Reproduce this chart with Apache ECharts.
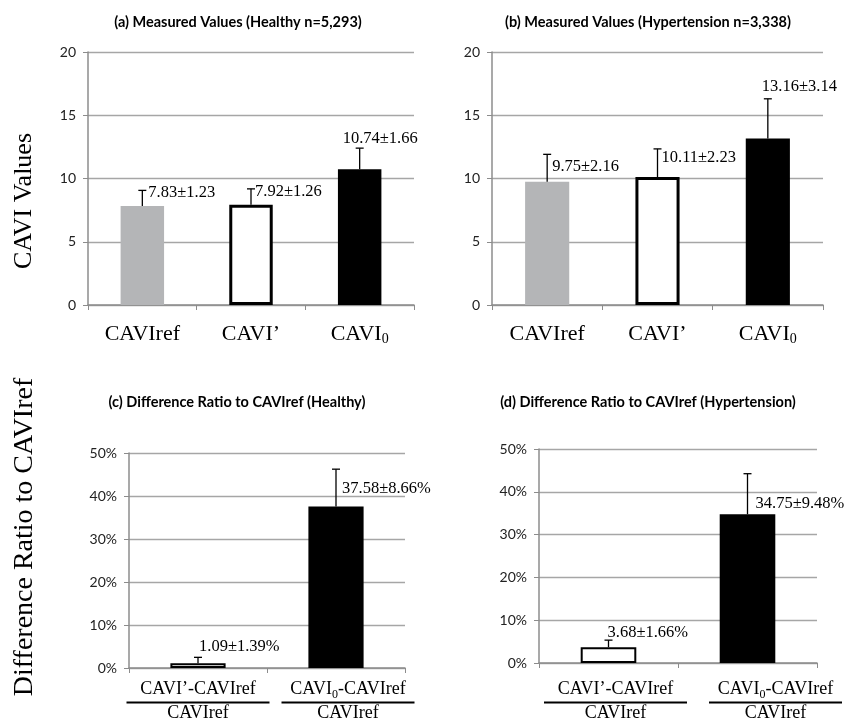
<!DOCTYPE html>
<html>
<head>
<meta charset="utf-8">
<script src="https://cdn.jsdelivr.net/npm/echarts@6/dist/echarts.min.js"></script>
<style>html,body{margin:0;padding:0;background:#fff}#c{width:846px;height:719px}</style>
</head>
<body>
<div id="c"></div>
<script>
// ---- data ----
const measuredCats = ['CAVIref', 'CAVI\u2019', 'CAVI0'];
const healthyMean = [7.83, 7.92, 10.74];
const healthySD = [1.23, 1.26, 1.66];
const hyperMean = [9.75, 10.11, 13.16];
const hyperSD = [2.16, 2.23, 3.14];

const ratioCats = ['CAVI\u2019-CAVIref', 'CAVI0-CAVIref'];
const healthyRatio = [1.09, 37.58];
const healthyRatioSD = [1.39, 8.66];
const hyperRatio = [3.68, 34.75];
const hyperRatioSD = [1.66, 9.48];

const titles = [
  '(a) Measured Values (Healthy n=5,293)',
  '(b) Measured Values (Hypertension n=3,338)',
  '(c) Difference Ratio to CAVIref (Healthy)',
  '(d) Difference Ratio to CAVIref (Hypertension)'
];

// ---- styles / placement ----
const serif = '"Liberation Serif", "Times New Roman", serif';
const sans = 'Lato, "Open Sans", sans-serif';
const measuredStyles = [
  { color: '#b4b5b7', borderWidth: 0 },
  { color: '#ffffff', borderColor: '#000', borderWidth: 3 },
  { color: '#000000', borderWidth: 0 }
];
const ratioStyles = [
  { color: '#ffffff', borderColor: '#000', borderWidth: 2 },
  { color: '#000000', borderWidth: 0 }
];
// label offsets [dx, dy] relative to error bar cap
const labelOffsets = [
  [[6, 2], [4, 3], [-17, -9]],
  [[5, 12], [4, 9], [-6, -12]],
  [[1, -11], [6, 20]],
  [[-1, -7], [8, 30]]
];

const grids = [
  { left: 88, right: 432, top: 52, bottom: 414, outerBoundsMode: 'none' },
  { left: 492, right: 23, top: 52, bottom: 414, outerBoundsMode: 'none' },
  { left: 129, right: 441, top: 453, bottom: 51, outerBoundsMode: 'none' },
  { left: 539, right: 29, top: 449, bottom: 56, outerBoundsMode: 'none' }
];

const measuredLabel = {
  interval: 0, margin: 17,
  formatter: v => v === 'CAVI0' ? '{m|CAVI}{s|0}' : '{m|' + v + '}',
  rich: {
    m: { fontFamily: serif, fontSize: 22, color: '#000', lineHeight: 24 },
    s: { fontFamily: serif, fontSize: 14, color: '#000', lineHeight: 14, verticalAlign: 'bottom' }
  }
};

function ratioLabel(shift1, shift2, margin) {
  const richBase = {
    n: { fontFamily: serif, fontSize: 18, color: '#000', lineHeight: 23 },
    ns: { fontFamily: serif, fontSize: 12, color: '#000', lineHeight: 12, verticalAlign: 'bottom' },
    d: { fontFamily: serif, fontSize: 18, color: '#000', lineHeight: 18 },
    l1: { width: 143, height: 2, lineHeight: 3, backgroundColor: '#000' },
    l2: { width: 133, height: 2, lineHeight: 3, backgroundColor: '#000' },
    p1: { width: Math.max(0, 2 * shift1), height: 1 },
    p2: { width: Math.max(0, 2 * shift2), height: 1 }
  };
  return {
    interval: 0, margin: margin,
    formatter: v => {
      if (v === 'CAVI0-CAVIref') {
        return '{p2|}{n|CAVI}{ns|0}{n|-CAVIref}\n{p2|}{l2|}\n{p2|}{d|CAVIref}';
      }
      return '{p1|}{n|' + v + '}\n{p1|}{l1|}\n{p1|}{d|CAVIref}';
    },
    rich: richBase
  };
}

function xAxis(gi, cats, label) {
  return {
    type: 'category', gridIndex: gi, data: cats,
    axisLine: { lineStyle: { color: '#8c8c8c', width: 1.5 } },
    axisTick: { show: true, interval: 0, length: 5, lineStyle: { color: '#8c8c8c' } },
    axisLabel: label
  };
}
function yAxis(gi, max, interval, pct) {
  return {
    type: 'value', gridIndex: gi, min: 0, max: max, interval: interval,
    axisLine: { show: true, lineStyle: { color: '#8c8c8c', width: 1.5 } },
    axisTick: { show: true, length: 5, lineStyle: { color: '#8c8c8c' } },
    splitLine: { lineStyle: { color: '#a6a6a6', width: 1.3 } },
    axisLabel: { fontFamily: sans, fontSize: 14, color: '#222', margin: 12,
      formatter: pct ? '{value}%' : '{value}' }
  };
}

function barSeries(gi, values, styles) {
  return {
    type: 'bar', xAxisIndex: gi, yAxisIndex: gi, barWidth: '40%',
    data: values.map((v, i) => ({ value: v, itemStyle: styles[i] })),
    silent: true, animation: false
  };
}

function errSeries(gi, values, sds, pct) {
  return {
    type: 'custom', xAxisIndex: gi, yAxisIndex: gi, z: 5, animation: false, silent: true,
    data: values.map((v, i) => [i, v, sds[i]]),
    renderItem: function (params, api) {
      const i = api.value(0), m = api.value(1), s = api.value(2);
      const p0 = api.coord([i, m]);
      const p1 = api.coord([i, m + s]);
      const off = labelOffsets[gi][params.dataIndex];
      const txt = m.toFixed(2) + '\u00b1' + s.toFixed(2) + (pct ? '%' : '');
      return {
        type: 'group',
        children: [
          { type: 'line', shape: { x1: p0[0], y1: p0[1], x2: p1[0], y2: p1[1] },
            style: { stroke: '#000', lineWidth: 1.3 } },
          { type: 'line', shape: { x1: p1[0] - 4, y1: p1[1], x2: p1[0] + 4, y2: p1[1] },
            style: { stroke: '#000', lineWidth: 1.3 } },
          { type: 'text', x: p1[0] + off[0], y: p1[1] + off[1],
            style: { text: txt, fontFamily: serif, fontSize: 16.5, fill: '#000',
              align: 'left', verticalAlign: 'middle' } }
        ]
      };
    }
  };
}

const titleCenters = [[238, 22], [648, 22], [237, 402], [648, 402]];

const option = {
  animation: false,
  backgroundColor: '#fff',
  grid: grids,
  xAxis: [
    xAxis(0, measuredCats, measuredLabel),
    xAxis(1, measuredCats, measuredLabel),
    xAxis(2, ratioCats, ratioLabel(0, 12, 10)),
    xAxis(3, ratioCats, ratioLabel(7, 28, 15))
  ],
  yAxis: [
    yAxis(0, 20, 5, false),
    yAxis(1, 20, 5, false),
    yAxis(2, 50, 10, true),
    yAxis(3, 50, 10, true)
  ],
  series: [
    barSeries(0, healthyMean, measuredStyles),
    barSeries(1, hyperMean, measuredStyles),
    barSeries(2, healthyRatio, ratioStyles),
    barSeries(3, hyperRatio, ratioStyles),
    errSeries(0, healthyMean, healthySD, false),
    errSeries(1, hyperMean, hyperSD, false),
    errSeries(2, healthyRatio, healthyRatioSD, true),
    errSeries(3, hyperRatio, hyperRatioSD, true)
  ],
  graphic: [
    ...titles.map((t, k) => ({
      type: 'text', x: titleCenters[k][0], y: titleCenters[k][1], silent: true,
      style: { text: t, fontFamily: sans, fontWeight: 'bold', fontSize: 14.5, fill: '#000',
        align: 'center', verticalAlign: 'middle' }
    })),
    { type: 'text', x: 24, y: 201, rotation: Math.PI / 2, silent: true,
      style: { text: 'CAVI Values', fontFamily: serif, fontSize: 26, fill: '#000',
        align: 'center', verticalAlign: 'middle' } },
    { type: 'text', x: 25, y: 537, rotation: Math.PI / 2, silent: true,
      style: { text: 'Difference Ratio to CAVIref', fontFamily: serif, fontSize: 28, fill: '#000',
        align: 'center', verticalAlign: 'middle' } }
  ]
};

const chart = echarts.init(document.getElementById('c'), null, { renderer: 'canvas' });
chart.setOption(option);
</script>
</body>
</html>
